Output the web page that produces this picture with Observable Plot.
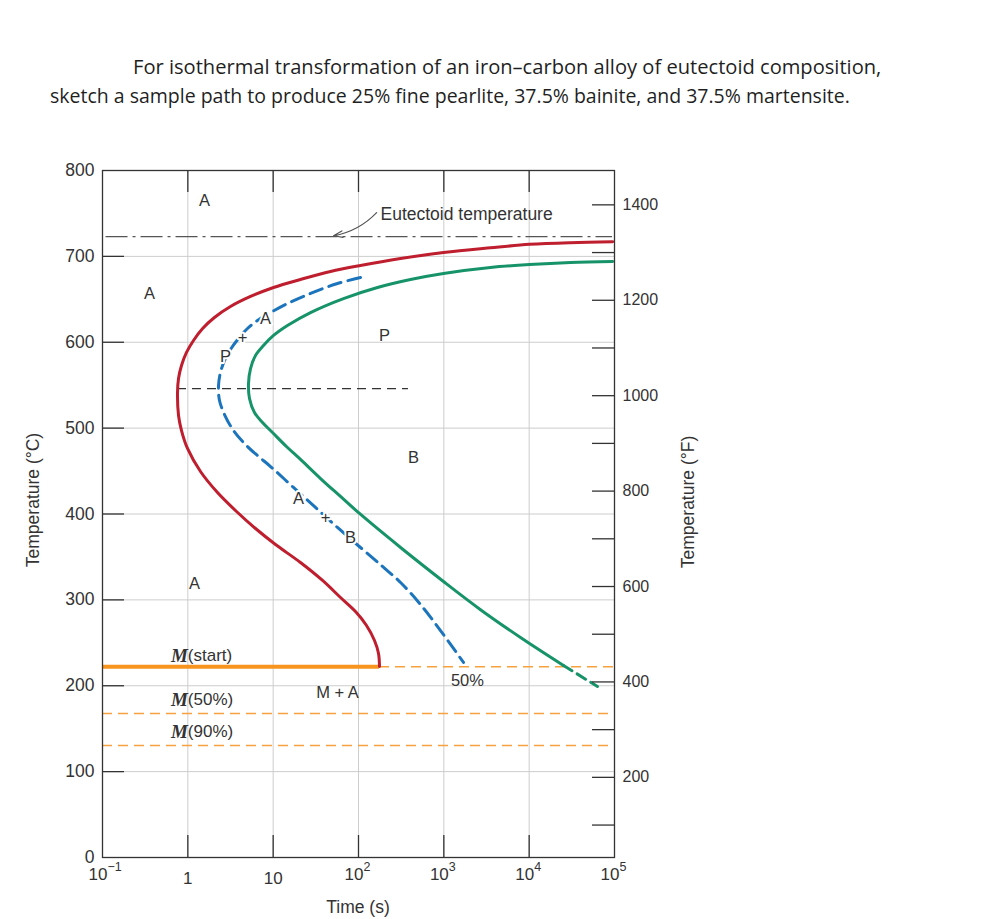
<!DOCTYPE html>
<html>
<head>
<meta charset="utf-8">
<script src="https://cdn.jsdelivr.net/npm/d3@7"></script>
<script src="https://cdn.jsdelivr.net/npm/@observablehq/plot@0.6"></script>
<style>
  body { margin: 0; background: #fff; width: 982px; height: 919px; position: relative; overflow: hidden; font-family: "Liberation Sans", Arial, sans-serif; }
  .title { position: absolute; white-space: nowrap; font-family: "Open Sans", sans-serif; font-size: 17px; line-height: 20px; color: #1f1f1f; }
  .axtitle { position: absolute; white-space: nowrap; font-family: "Liberation Sans", sans-serif; font-size: 17.5px; color: #333; transform: translate(-50%, -50%); }
  .rot { transform: translate(-50%, -50%) rotate(-90deg); }
  #chart { position: absolute; left: 0; top: 130px; }
</style>
</head>
<body>
<div class="title" id="t1" style="left:133px; top:56px;">For isothermal transformation of an iron–carbon alloy of eutectoid composition,</div>
<div class="title" id="t2" style="left:50px; top:86px;">sketch a sample path to produce 25% fine pearlite, 37.5% bainite, and 37.5% martensite.</div>
<div id="chart"></div>
<div class="axtitle rot" style="left:33px; top:500px;">Temperature (°C)</div>
<div class="axtitle rot" style="left:688px; top:502px;">Temperature (°F)</div>
<div class="axtitle" style="left:358px; top:907px;">Time (s)</div>
<script>
// ---- axes / ticks ----
const plainTimeTicks = [1, 10];
const powerTimeTicks = [0.1, 100, 1000, 10000, 100000];
const powerExponents = ["−1", "2", "3", "4", "5"];
const gridTimes = [1, 10, 100, 1000, 10000];
const yTicksC = [0, 100, 200, 300, 400, 500, 600, 700, 800];
const gridTemps = [100, 200, 300, 400, 500, 600, 700];
const fTicks = [100, 200, 300, 400, 500, 600, 700, 800, 900, 1000, 1100, 1200, 1300, 1400];
const fLabels = [200, 400, 600, 800, 1000, 1200, 1400];

// ---- curves: [time (s), temperature (°C)] ----
const startCurve = [
  [95000, 717], [30500, 716], [10090, 714], [3520, 710], [991, 704.5], [311, 697.5], [105.5, 689.4],
  [47, 682.4], [20.9, 673.1], [10.1, 663.8], [5.43, 653.3], [3.16, 641.6], [2.05, 628.8], [1.49, 616],
  [1.165, 602], [0.965, 588.1], [0.843, 572.9], [0.778, 557.8], [0.757, 541.5], [0.778, 514.7],
  [0.843, 497.2], [0.991, 476.3], [1.407, 449.5], [2.227, 425], [3.72, 402.9], [6.21, 383.1],
  [10.65, 364.5], [20.9, 343.5], [37.9, 322.6], [61.5, 302.8], [92.2, 286.5], [124.1, 270.2],
  [154, 252.7], [171.6, 237.6], [176.2, 222.4]
];
const halfCurve = [
  [105.5, 675.4], [56.7, 668.4], [27.4, 656.8], [14.7, 645.1], [9.31, 634.6], [6.55, 625.3], [5.0, 616],
  [3.93, 604.4], [3.16, 591.6], [2.69, 578.7], [2.41, 564.8], [2.29, 549.5], [2.35, 532.2], [2.76, 513.5],
  [3.43, 497.2], [4.61, 482.1], [6.55, 468.1], [9.31, 455.3], [17.3, 430.9], [31.3, 407.6], [56.7, 384.3],
  [105.5, 361], [191, 338.9], [311, 320.2], [533, 294.6], [914, 264.3], [1700, 227.1]
];
const endCurve = [
  [95000, 694], [30500, 692.9], [10090, 690.5], [3520, 687], [991, 680.1], [407, 673.1], [167, 663.8],
  [66.7, 650.9], [27.4, 634.6], [14.7, 619.5], [10.1, 607.9], [7.7, 596.2], [6.21, 584.6], [5.43, 569.4],
  [5.14, 551.9], [5.28, 534.5], [6.04, 518.2], [7.5, 506.6], [9.82, 494.9], [14.3, 478.6], [20.9, 463.5],
  [35.9, 441.3], [61.5, 420.4], [102.7, 400.6], [311, 361], [991, 321.4], [2690, 288.6], [7915, 256.2],
  [25250, 223.6]
];
const endCurveDashed = [[25250, 223.6], [63240, 199.1]];

// ---- horizontal reference lines ----
const eutectoidLine = [{T: 723, t1: 0.11, t2: 95000}];
const noseLine = [{T: 546, t1: 0.757, t2: 385}];
const mStartSolid = [{T: 222, t1: 0.1, t2: 176.2}];
const mDashed = [{T: 222, t1: 176.2, t2: 100000}, {T: 167.7, t1: 0.1, t2: 100000}, {T: 130.4, t1: 0.1, t2: 100000}];

// ---- labels ----
const phaseLabels = [
  {t: 1.57, T: 765, s: "A"}, {t: 0.356, T: 657, s: "A"}, {t: 1.2, T: 319, s: "A"},
  {t: 202, T: 608, s: "P"}, {t: 441, T: 466, s: "B"},
  {t: 56.7, T: 192, s: "M + A"}, {t: 1890, T: 206, s: "50%"}
];
const pathLabels = [
  {t: 8.13, T: 627.6, s: "A"}, {t: 4.37, T: 605.5, s: "+"}, {t: 2.76, T: 583, s: "P"},
  {t: 19.8, T: 418, s: "A"}, {t: 41, T: 396, s: "+"}, {t: 80.5, T: 372.6, s: "B"}
];
const mLabels = [{t: 1.0, T: 235, sub: "(start)"}, {t: 1.0, T: 184, sub: "(50%)"}, {t: 1.0, T: 146.7, sub: "(90%)"}];
const eutectoidText = [{t: 181, T: 749, s: "Eutectoid temperature"}];
const eutectoidArrow = [{t1: 163, T1: 751, t2: 51, T2: 724}];

const toC = f => (f - 32) * 5 / 9;
const ink = "#333";

const chart = Plot.plot({
  width: 760,
  height: 789,
  marginLeft: 102,
  marginRight: 146,
  marginTop: 40,
  marginBottom: 62,
  style: {fontFamily: "Liberation Sans, sans-serif", fontSize: "16px", color: ink, background: "transparent"},
  x: {type: "log", domain: [0.1, 100000]},
  y: {domain: [0, 800]},
  marks: [
    Plot.ruleX(gridTimes, {stroke: "#cdcdcd", strokeWidth: 1}),
    Plot.ruleY(gridTemps, {stroke: "#cdcdcd", strokeWidth: 1}),
    Plot.ruleY(eutectoidLine, {y: "T", x1: "t1", x2: "t2", stroke: "#555", strokeWidth: 1.4, strokeDasharray: "22,5,3,5"}),
    Plot.ruleY(noseLine, {y: "T", x1: "t1", x2: "t2", stroke: "#333", strokeWidth: 1.3, strokeDasharray: "9,6"}),
    Plot.ruleY(mDashed, {y: "T", x1: "t1", x2: "t2", stroke: "#f7a240", strokeWidth: 1.5, strokeDasharray: "10,6"}),
    Plot.ruleY(mStartSolid, {y: "T", x1: "t1", x2: "t2", stroke: "#f7941d", strokeWidth: 4}),
    Plot.line(endCurve, {curve: "catmull-rom", stroke: "#17936a", strokeWidth: 3}),
    Plot.line(endCurveDashed, {stroke: "#17936a", strokeWidth: 3, strokeDasharray: "10,6"}),
    Plot.line(startCurve, {curve: "catmull-rom", stroke: "#be1e2d", strokeWidth: 3}),
    Plot.line(halfCurve, {curve: "catmull-rom", stroke: "#1c75bc", strokeWidth: 3, strokeDasharray: "13,7"}),
    Plot.arrow(eutectoidArrow, {x1: "t1", y1: "T1", x2: "t2", y2: "T2", bend: 18, stroke: "#555", strokeWidth: 1.2, headLength: 12, headAngle: 40}),
    Plot.text(eutectoidText, {x: "t", y: "T", text: "s", textAnchor: "start", fontSize: 17.5, fill: ink}),
    Plot.text(phaseLabels, {x: "t", y: "T", text: "s", fontSize: 16.5, fill: ink}),
    Plot.text(pathLabels, {x: "t", y: "T", text: "s", fontSize: 16.5, fill: ink, stroke: "white", strokeWidth: 4, paintOrder: "stroke"}),
    Plot.text(mLabels, {x: "t", y: "T", text: () => "M", textAnchor: "end", fontFamily: "Liberation Serif, serif", fontStyle: "italic", fontWeight: "bold", fontSize: 19, fill: ink}),
    Plot.text(mLabels, {x: "t", y: "T", text: "sub", textAnchor: "start", fontSize: 17, fill: ink}),
    Plot.frame({stroke: "#333", strokeWidth: 1.3}),
    Plot.ruleY(gridTemps, {insetRight: 490, stroke: ink, strokeWidth: 1.3}),
    Plot.ruleY(fTicks.map(toC), {insetLeft: 490, stroke: ink, strokeWidth: 1.3}),
    Plot.ruleX(gridTimes, {insetBottom: 665, stroke: ink, strokeWidth: 1.3}),
    Plot.ruleX(gridTimes, {insetTop: 665, stroke: ink, strokeWidth: 1.3}),
    Plot.axisY({anchor: "left", ticks: yTicksC, tickSize: 0, tickPadding: 8, fontSize: 17.5, label: null}),
    Plot.axisY({anchor: "right", ticks: fLabels.map(toC), tickFormat: c => String(Math.round(c * 9 / 5 + 32)), tickSize: 0, tickPadding: 8, fontSize: 16, label: null}),
    Plot.axisX({anchor: "bottom", ticks: plainTimeTicks, tickFormat: d => String(d), tickSize: 0, tickPadding: 14, fontSize: 17, label: null}),
    Plot.text(powerTimeTicks, {x: d => d, frameAnchor: "bottom", dy: 22.5, dx: 5, text: () => "10", textAnchor: "end", fontSize: 17, fill: ink}),
    Plot.text(powerTimeTicks, {x: d => d, frameAnchor: "bottom", dy: 13.5, dx: 5, text: (d, i) => powerExponents[i], textAnchor: "start", fontSize: 12.5, fill: ink})
  ]
});
document.getElementById("chart").appendChild(chart);

// fit title line widths to the reference paragraph
for (const [id, w] of [["t1", 749], ["t2", 800]]) {
  const el = document.getElementById(id);
  const cur = el.getBoundingClientRect().width;
  if (cur > 0) el.style.fontSize = (17 * w / cur).toFixed(2) + "px";
}
</script>
</body>
</html>
